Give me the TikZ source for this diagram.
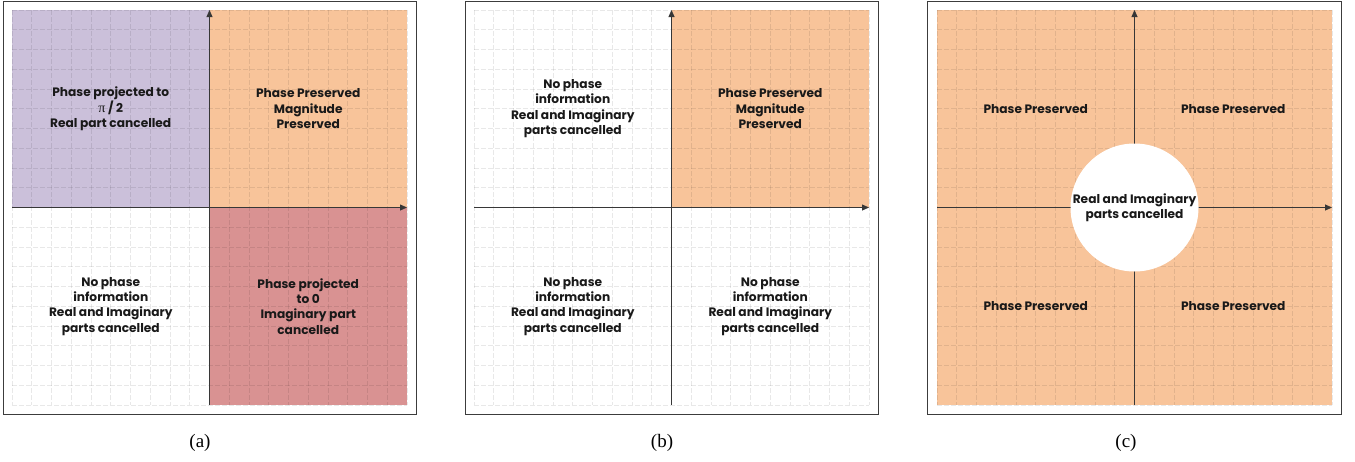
\documentclass[tikz,border=0pt]{standalone}
\usepackage{fontspec}
\setmainfont{Poppins}
\newfontfamily\capfont{Liberation Serif}
\usetikzlibrary{arrows.meta}
\definecolor{qpurple}{RGB}{203,192,218}
\definecolor{qorange}{RGB}{248,196,154}
\definecolor{qred}{RGB}{217,146,146}
\definecolor{axisgray}{RGB}{55,55,55}
\definecolor{framegray}{RGB}{60,60,60}
\tikzset{
  gridline/.style={black, opacity=0.09, line width=0.6pt, dash pattern=on 5pt off 2pt},
  axisline/.style={axisgray, line width=0.8pt, -{Triangle[length=7pt,width=6pt]}},
  frameline/.style={framegray, line width=0.9pt},
  qtext/.style={align=center, font=\bfseries\fontsize{12.2}{15.3}\selectfont, text=black!90, inner sep=0pt},
  captext/.style={font=\capfont\fontsize{19}{21}\selectfont, inner sep=0pt},
}
\newcommand\drawquadgrid{%
  \foreach \k in {0,...,20}{
    \draw[gridline] (\k*19.75,0) -- (\k*19.75,395);
    \draw[gridline] (0,\k*19.75) -- (395,\k*19.75);
  }}
\newcommand\uprightpi{{\capfont\mdseries\fontsize{14}{15.3}\selectfont π}}
\begin{document}
\begin{tikzpicture}[x=1pt,y=-1pt]
\useasboundingbox (0,0) rectangle (1355,461);
\fill[white] (0,0) rectangle (1355,461);
% ---------- panel (a)
\begin{scope}[shift={(12,10)}]
  \fill[qpurple] (0,0) rectangle (197.5,197.5);
  \fill[qorange] (197.5,0) rectangle (395,197.5);
  \fill[qred] (197.5,197.5) rectangle (395,395);
  \drawquadgrid
  \coordinate (a-s) at (197.5,395);
  \coordinate (a-n) at (197.5,0);
  \coordinate (a-w) at (0,197.5);
  \coordinate (a-e) at (395,197.5);
  \draw[axisline] (a-s) -- (a-n);
  \draw[axisline] (a-w) -- (a-e);
  \node[qtext] (a-tl) at (98.75,98.75) {Phase projected to\\\uprightpi{} / 2\\Real part cancelled};
  \node[qtext] (a-tr) at (296.25,98.75) {Phase Preserved\\Magnitude\\Preserved};
  \node[qtext] (a-bl) at (98.75,296.25) {No phase\\information\\Real and Imaginary\\parts cancelled};
  \node[qtext] (a-br) at (296.25,296.25) {Phase projected\\to 0\\Imaginary part\\cancelled};
  \draw[frameline] (-9,-9) rectangle (404,404);
\end{scope}
% ---------- panel (b)
\begin{scope}[shift={(474,10)}]
  \fill[qorange] (197.5,0) rectangle (395,197.5);
  \drawquadgrid
  \coordinate (b-s) at (197.5,395);
  \coordinate (b-n) at (197.5,0);
  \coordinate (b-w) at (0,197.5);
  \coordinate (b-e) at (395,197.5);
  \draw[axisline] (b-s) -- (b-n);
  \draw[axisline] (b-w) -- (b-e);
  \node[qtext] (b-tl) at (98.75,98.75) {No phase\\information\\Real and Imaginary\\parts cancelled};
  \node[qtext] (b-tr) at (296.25,98.75) {Phase Preserved\\Magnitude\\Preserved};
  \node[qtext] (b-bl) at (98.75,296.25) {No phase\\information\\Real and Imaginary\\parts cancelled};
  \node[qtext] (b-br) at (296.25,296.25) {No phase\\information\\Real and Imaginary\\parts cancelled};
  \draw[frameline] (-9,-9) rectangle (404,404);
\end{scope}
% ---------- panel (c)
\begin{scope}[shift={(937,10)}]
  \fill[qorange] (0,0) rectangle (395,395);
  \drawquadgrid
  \coordinate (c-s) at (197.5,395);
  \coordinate (c-n) at (197.5,0);
  \coordinate (c-w) at (0,197.5);
  \coordinate (c-e) at (395,197.5);
  \draw[axisline] (c-s) -- (c-n);
  \draw[axisline] (c-w) -- (c-e);
  \node[qtext] (c-tl) at (98.75,98.75) {Phase Preserved};
  \node[qtext] (c-tr) at (296.25,98.75) {Phase Preserved};
  \node[qtext] (c-bl) at (98.75,296.25) {Phase Preserved};
  \node[qtext] (c-br) at (296.25,296.25) {Phase Preserved};
  \node[qtext, circle, fill=white, minimum size=128pt] (c-mid) at (197.5,197.5) {Real and Imaginary\\parts cancelled};
  \draw[frameline] (-10,-9) rectangle (404,404);
\end{scope}
% ---------- captions
\node[captext] (cap-a) at (200,443) {(a)};
\node[captext] (cap-b) at (662,443) {(b)};
\node[captext] (cap-c) at (1126,443) {(c)};
\end{tikzpicture}
\end{document}
